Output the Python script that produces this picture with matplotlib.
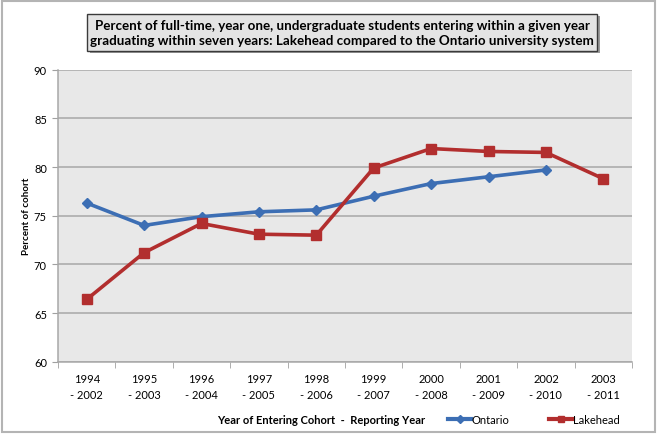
import matplotlib
matplotlib.use("Agg")
import matplotlib.pyplot as plt
from matplotlib.patches import Rectangle
from matplotlib.lines import Line2D

plt.rcParams['font.family'] = ['Lato', 'DejaVu Sans']

categories = ["1994\n- 2002", "1995\n- 2003", "1996\n- 2004", "1997\n- 2005", "1998\n- 2006",
              "1999\n- 2007", "2000\n- 2008", "2001\n- 2009", "2002\n- 2010", "2003\n- 2011"]
ontario = [76.3, 74.0, 74.9, 75.4, 75.6, 77.0, 78.3, 79.0, 79.7]
lakehead = [66.4, 71.2, 74.2, 73.1, 73.0, 79.9, 81.9, 81.6, 81.5, 78.8]
yticks = [60, 65, 70, 75, 80, 85, 90]

W, H = 657, 435
fig = plt.figure(figsize=(W / 100, H / 100), dpi=100)

def fx(px):
    return px / W

def fy(py):
    return 1 - py / H

left, right, top, bottom = 58, 632, 70.7, 362.7
ax = fig.add_axes([fx(left), fy(bottom), fx(right - left), (bottom - top) / H])
ax.set_facecolor('#E8E8E8')

x_on = list(range(len(ontario)))
x_lk = list(range(len(lakehead)))
ax.plot(x_on, ontario, color='#3C6EB4', lw=2.6, marker='D', ms=5.5, mec='#3C6EB4', mfc='#3C6EB4', zorder=3)
ax.plot(x_lk, lakehead, color='#B22E2E', lw=2.6, marker='s', ms=7.5, mec='#B22E2E', mfc='#B22E2E', zorder=4)

ax.set_xlim(-0.5, len(categories) - 0.5)
ax.set_ylim(60, 90)
ax.set_yticks(yticks)
ax.set_yticklabels([str(v) for v in yticks], fontsize=8)
ax.yaxis.grid(True, color='#A8A8A8', lw=1.1)
ax.set_axisbelow(True)
ax.set_xticks(range(len(categories)))
ax.set_xticklabels(categories, fontsize=8, linespacing=1.6)
ax.set_xticks([i - 0.5 for i in range(len(categories) + 1)], minor=True)
ax.tick_params(axis='x', which='major', length=0, pad=8)
ax.tick_params(axis='x', which='minor', length=4, color='#A0A0A0', direction='out')
ax.tick_params(axis='y', length=4, color='#A0A0A0', direction='out', pad=4)
for s in ['top', 'right']:
    ax.spines[s].set_visible(False)
for s in ['left', 'bottom']:
    ax.spines[s].set_color('#A8A8A8')
    ax.spines[s].set_linewidth(1.1)

ax.set_ylabel('Percent of cohort', fontsize=7, fontweight='bold', labelpad=2)

# outer border
fig.patches.append(Rectangle((fx(1.5), fy(432.5)), fx(653), (431) / H, transform=fig.transFigure,
                             fill=False, ec='#B4B4B4', lw=1.5))

# title box with shadow
bx0, bx1, by0, by1 = 87.3, 597, 14.7, 51.7
fig.patches.append(Rectangle((fx(bx0 + 2.5), fy(by1 + 2.5)), fx(bx1 - bx0), (by1 - by0) / H,
                             transform=fig.transFigure, fc='#9A9A9A', ec='none', zorder=1))
fig.patches.append(Rectangle((fx(bx0), fy(by1)), fx(bx1 - bx0), (by1 - by0) / H,
                             transform=fig.transFigure, fc='#E4E4E4', ec='#3A3A3A', lw=1.0, zorder=2))
fig.text(fx((bx0 + bx1) / 2), fy((by0 + by1) / 2),
         "Percent of full-time, year one, undergraduate students entering within a given year\n"
         "graduating within seven years: Lakehead compared to the Ontario university system",
         ha='center', va='center', fontsize=9.6, fontweight='bold', linespacing=1.3, zorder=3)

# x label
fig.text(fx(321), fy(420.7), 'Year of Entering Cohort  -  Reporting Year', ha='center', va='center',
         fontsize=8, fontweight='bold')

handles = [Line2D([], [], color='#3C6EB4', lw=3, marker='D', ms=4),
           Line2D([], [], color='#B22E2E', lw=3, marker='s', ms=4.5)]
fig.legend(handles, ['Ontario', 'Lakehead'], loc='center left', bbox_to_anchor=(fx(448), fy(420.7)),
           ncol=2, frameon=False, fontsize=8, handlelength=2.1, handletextpad=0.0,
           columnspacing=3.6, borderpad=0, borderaxespad=0)

fig.savefig('out.png', dpi=100)
